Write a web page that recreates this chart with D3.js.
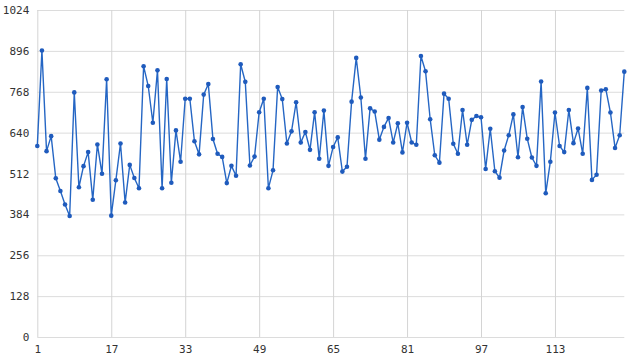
<!DOCTYPE html>
<html>
<head>
<meta charset="utf-8">
<script src="https://cdn.jsdelivr.net/npm/d3@7"></script>
<style>
  body { margin: 0; background: #fff; }
  svg text { font-family: "DejaVu Sans Mono", monospace; font-size: 11px; fill: #333; }
</style>
</head>
<body>
<svg id="chart" width="640" height="360"></svg>
<script>
// values, index 1..128
const values = [
  598, 897, 582, 629, 497, 457, 415, 379, 766, 469,
  535, 579, 430, 603, 511, 807, 380, 491, 606, 421,
  539, 498, 466, 848, 786, 671, 835, 466, 808, 483,
  647, 549, 746, 746, 613, 572, 759, 792, 620, 574,
  564, 482, 536, 505, 854, 799, 537, 565, 704, 746,
  466, 522, 783, 745, 606, 644, 735, 609, 642, 586,
  704, 558, 709, 536, 595, 625, 518, 533, 737, 874,
  750, 558, 716, 706, 618, 658, 686, 609, 669, 578,
  671, 609, 602, 880, 832, 682, 569, 546, 762, 746,
  605, 574, 711, 602, 680, 692, 688, 526, 652, 519,
  499, 584, 632, 697, 563, 720, 621, 562, 536, 800,
  450, 549, 703, 598, 579, 711, 607, 653, 574, 780,
  492, 508, 772, 776, 703, 592, 632, 831
];
const xTicks = [1, 17, 33, 49, 65, 81, 97, 113];
const yTicks = [0, 128, 256, 384, 512, 640, 768, 896, 1024];

const svg = d3.select('#chart');
const mLeft = 37.3, mRight = 624.3, mTop = 10, mBottom = 337;

const x = d3.scaleLinear().domain([1, 128]).range([mLeft, mRight]);
const y = d3.scaleLinear().domain([0, 1024]).range([mBottom, mTop]);

// horizontal grid
svg.append('g')
  .attr('transform', `translate(${mLeft},0)`)
  .call(d3.axisLeft(y).tickValues(yTicks).tickSize(-(mRight - mLeft)).tickFormat(''))
  .call(g => g.select('.domain').remove())
  .call(g => g.selectAll('line').attr('stroke', '#dcdcdc'));

// vertical grid
svg.append('g')
  .attr('transform', `translate(0,${mBottom})`)
  .call(d3.axisBottom(x).tickValues(xTicks).tickSize(-(mBottom - mTop)).tickFormat(''))
  .call(g => g.select('.domain').remove())
  .call(g => g.selectAll('line').attr('stroke', '#d4d4d4'));

// y labels
svg.append('g')
  .attr('transform', `translate(${mLeft - 8},0)`)
  .call(d3.axisLeft(y).tickValues(yTicks).tickSize(0).tickPadding(0).tickFormat(d3.format('d')))
  .call(g => g.select('.domain').remove());

// x labels
svg.append('g')
  .attr('transform', `translate(0,${mBottom + 4})`)
  .call(d3.axisBottom(x).tickValues(xTicks).tickSize(0).tickPadding(4).tickFormat(d3.format('d')))
  .call(g => g.select('.domain').remove());

svg.selectAll('.tick text').attr('fill', '#333');

const line = d3.line()
  .x((d, i) => x(i + 1))
  .y(d => y(d));

svg.append('path')
  .datum(values)
  .attr('fill', 'none')
  .attr('stroke', '#2566c4')
  .attr('stroke-width', 1.4)
  .attr('d', line);

svg.append('g')
  .selectAll('circle')
  .data(values)
  .join('circle')
  .attr('cx', (d, i) => x(i + 1))
  .attr('cy', d => y(d))
  .attr('r', 2.3)
  .attr('fill', '#1f5bbd');
</script>
</body>
</html>
